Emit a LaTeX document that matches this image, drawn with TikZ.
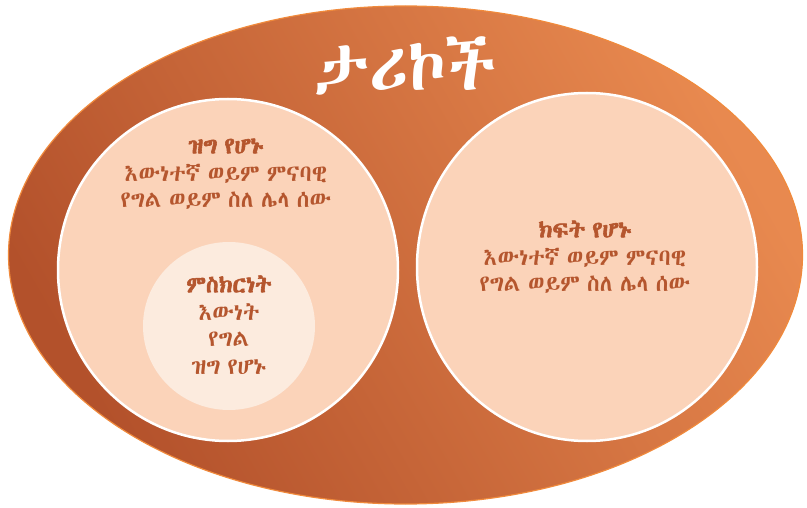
\documentclass[tikz,border=0pt]{standalone}
\usepackage{fontspec}
\newfontfamily\ethfont[BoldFont=*,BoldFeatures={FakeBold=2.5},WordSpace=0.7]{Abyssinica SIL}
\definecolor{darkor}{HTML}{B3512B}
\definecolor{lightor}{HTML}{E8894F}
\definecolor{rimor}{HTML}{F08A3C}
\definecolor{peach}{HTML}{FBD3B9}
\definecolor{cream}{HTML}{FCEBDE}
\definecolor{txtor}{HTML}{B5562E}
\tikzset{
  bigcirc/.style={draw=white, line width=2.5pt, fill=peach},
  inner/.style={fill=cream},
  body/.style={text=txtor, font=\ethfont\fontsize{23}{28}\selectfont, align=center},
  head/.style={text=txtor, font=\ethfont\bfseries\fontsize{23}{28}\selectfont, align=center},
  title/.style={text=white, font=\ethfont\fontsize{68}{76}\selectfont},
}
\begin{document}
\begin{tikzpicture}[x=1pt,y=-1pt]
\useasboundingbox (0,0) rectangle (807,508);
% outer ellipse
\shade[left color=darkor, right color=lightor, shading angle=120]
  (405.5,255) ellipse [x radius=397, y radius=249];
\draw[rimor, line width=1.2pt] (405.5,255) ellipse [x radius=397, y radius=249];
\node[title] (title) at (405,66) {ታሪኮች};
% left and right circles
\draw[bigcirc] (228,270) ellipse [x radius=170, y radius=171];
\draw[bigcirc] (587,267) ellipse [x radius=170, y radius=174];
\fill[inner] (229,326) ellipse [x radius=86, y radius=84];
% left texts
\node[head] (lh) at (226,146) {ዝግ የሆኑ};
\node[body] (l1) at (226,174) {እውነተኛ ወይም ምናባዊ};
\node[body] (l2) at (226,201) {የግል ወይም ስለ ሌላ ሰው};
% inner texts
\node[head] (ih) at (229,284) {ምስክርነት};
\node[body] (i1) at (229,312) {እውነት};
\node[body] (i2) at (229,339) {የግል};
\node[body] (i3) at (229,367) {ዝግ የሆኑ};
% right texts
\node[head] (rh) at (585,229) {ክፍት የሆኑ};
\node[body] (r1) at (585,258) {እውነተኛ ወይም ምናባዊ};
\node[body] (r2) at (585,285) {የግል ወይም ስለ ሌላ ሰው};
\end{tikzpicture}
\end{document}
